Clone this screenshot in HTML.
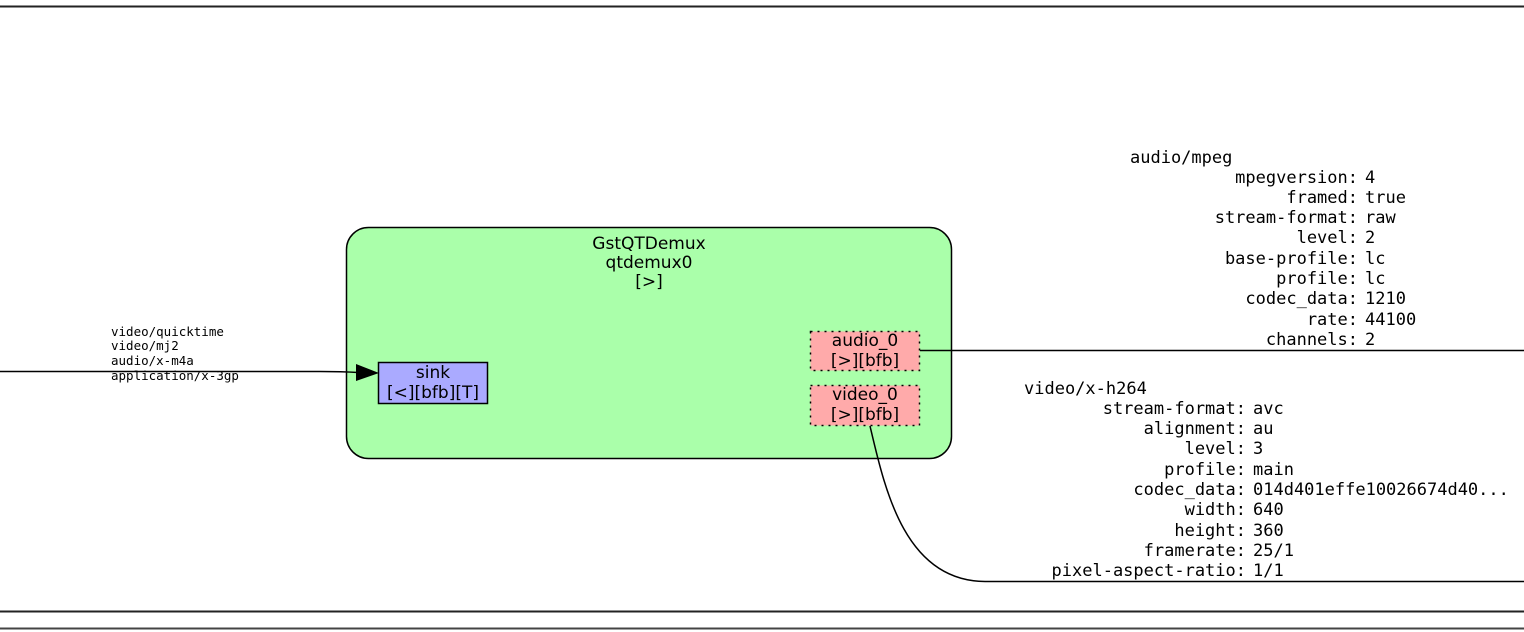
<!DOCTYPE html>
<html><head><meta charset="utf-8"><style>
html,body{margin:0;padding:0;background:#fff;}
svg{display:block;}
.m{font-family:"DejaVu Sans Mono","Liberation Mono",monospace;font-size:17px;fill:#000;}
.s{font-family:"DejaVu Sans Mono","Liberation Mono",monospace;font-size:12.5px;fill:#000;}
.t{font-family:"DejaVu Sans","Liberation Sans",sans-serif;font-size:17px;fill:#000;}
</style></head><body>
<svg width="1524" height="632" viewBox="0 0 1524 632" xmlns="http://www.w3.org/2000/svg">
<line x1="0" y1="6.5" x2="1524" y2="6.5" stroke="#222" stroke-width="2"/>
<line x1="0" y1="611.5" x2="1524" y2="611.5" stroke="#222" stroke-width="2"/>
<line x1="0" y1="628.5" x2="1524" y2="628.5" stroke="#444" stroke-width="2"/>

<rect x="346.5" y="227.5" width="605" height="231" rx="22" fill="#aaffaa" stroke="#000" stroke-width="1.5"/>
<text class="t" x="649" y="249" text-anchor="middle">GstQTDemux</text>
<text class="t" x="649" y="268" text-anchor="middle">qtdemux0</text>
<text class="t" x="649" y="287" text-anchor="middle">[&gt;]</text>

<rect x="378.5" y="362.5" width="109" height="41" fill="#aaaaff" stroke="#000" stroke-width="1.5"/>
<text class="t" x="433" y="378" text-anchor="middle">sink</text>
<text class="t" x="433" y="398" text-anchor="middle">[&lt;][bfb][T]</text>

<rect x="810.5" y="331.5" width="109" height="39" fill="#ffaaaa" stroke="#000" stroke-width="1.5" stroke-dasharray="2,5"/>
<text class="t" x="865" y="346" text-anchor="middle">audio_0</text>
<text class="t" x="865" y="366" text-anchor="middle">[&gt;][bfb]</text>
<rect x="810.5" y="385.5" width="109" height="40" fill="#ffaaaa" stroke="#000" stroke-width="1.5" stroke-dasharray="2,5"/>
<text class="t" x="865" y="400" text-anchor="middle">video_0</text>
<text class="t" x="865" y="420" text-anchor="middle">[&gt;][bfb]</text>

<path d="M0,371.5 L320,371.5 C340,371.5 350,372 358,372.5" fill="none" stroke="#000" stroke-width="1.5"/>
<polygon points="356,364 379,373 356,381" fill="#000"/>
<text class="s" x="111" y="336">video/quicktime</text>
<text class="s" x="111" y="350">video/mj2</text>
<text class="s" x="111" y="365">audio/x-m4a</text>
<text class="s" x="111" y="380">application/x-3gp</text>

<path d="M920,350.5 L1524,350.5" fill="none" stroke="#000" stroke-width="1.5"/>
<path d="M870,426 C885,490 905,581 985,581.5 L1524,581.5" fill="none" stroke="#000" stroke-width="1.5"/>

<text class="m" x="1130" y="163">audio/mpeg</text>
<g class="m" text-anchor="end">
<text x="1358" y="183">mpegversion:</text>
<text x="1358" y="203">framed:</text>
<text x="1358" y="223">stream-format:</text>
<text x="1358" y="243">level:</text>
<text x="1358" y="264">base-profile:</text>
<text x="1358" y="284">profile:</text>
<text x="1358" y="304">codec_data:</text>
<text x="1358" y="325">rate:</text>
<text x="1358" y="345">channels:</text>
</g>
<g class="m">
<text x="1365" y="183">4</text>
<text x="1365" y="203">true</text>
<text x="1365" y="223">raw</text>
<text x="1365" y="243">2</text>
<text x="1365" y="264">lc</text>
<text x="1365" y="284">lc</text>
<text x="1365" y="304">1210</text>
<text x="1365" y="325">44100</text>
<text x="1365" y="345">2</text>
</g>

<text class="m" x="1024" y="394">video/x-h264</text>
<g class="m" text-anchor="end">
<text x="1246" y="414">stream-format:</text>
<text x="1246" y="434">alignment:</text>
<text x="1246" y="454">level:</text>
<text x="1246" y="475">profile:</text>
<text x="1246" y="495">codec_data:</text>
<text x="1246" y="515">width:</text>
<text x="1246" y="536">height:</text>
<text x="1246" y="556">framerate:</text>
<text x="1246" y="576">pixel-aspect-ratio:</text>
</g>
<g class="m">
<text x="1253" y="414">avc</text>
<text x="1253" y="434">au</text>
<text x="1253" y="454">3</text>
<text x="1253" y="475">main</text>
<text x="1253" y="495">014d401effe10026674d40...</text>
<text x="1253" y="515">640</text>
<text x="1253" y="536">360</text>
<text x="1253" y="556">25/1</text>
<text x="1253" y="576">1/1</text>
</g>
</svg>
</body></html>
